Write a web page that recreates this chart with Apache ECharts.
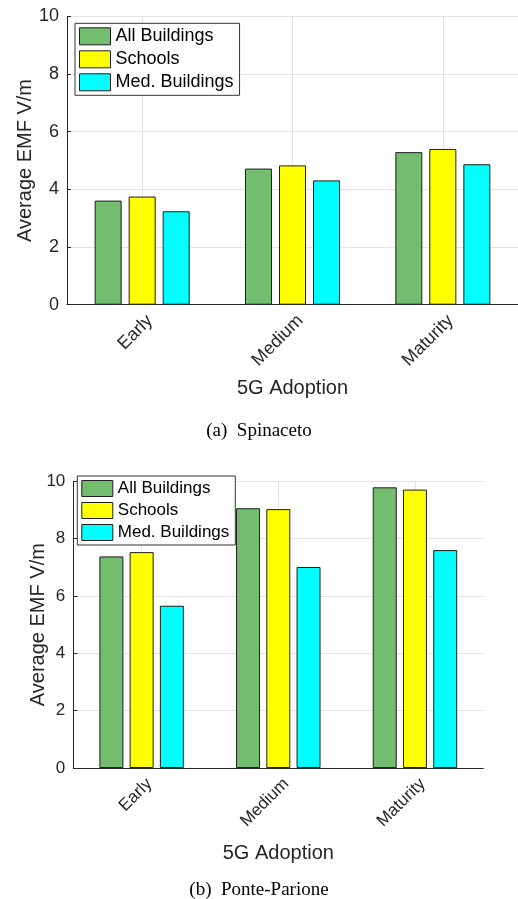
<!DOCTYPE html>
<html>
<head>
<meta charset="utf-8">
<script src="https://cdn.jsdelivr.net/npm/echarts@6/dist/echarts.min.js"></script>
<style>
  html, body { margin: 0; padding: 0; background: #fff; }
  #chart { width: 518px; height: 899px; }
</style>
</head>
<body>
<div id="chart"></div>
<script>
// Adoption stages on the x axis
const stages = ['Early', 'Medium', 'Maturity'];
const seriesNames = ['All Buildings', 'Schools', 'Med. Buildings'];
const yTicks = [0, 2, 4, 6, 8, 10];

// (a) Spinaceto — average EMF (V/m)
const spinacetoAll = [3.61, 4.72, 5.29];
const spinacetoSchools = [3.75, 4.83, 5.40];
const spinacetoMed = [3.24, 4.31, 4.87];

// (b) Ponte-Parione — average EMF (V/m)
const ponteAll = [7.38, 9.06, 9.79];
const ponteSchools = [7.53, 9.03, 9.71];
const ponteMed = [5.66, 7.01, 7.60];

const colors = ['#72bd6e', '#ffff00', '#00ffff'];
const ink = '#262626';
const gridColor = '#e3e3e3';
const sans = 'Liberation Sans, Arial, sans-serif';
const serif = 'Liberation Serif, Times New Roman, serif';

function xAxisFor(gridIndex, labelSize, nameGap) {
  return {
    type: 'category', gridIndex, data: stages,
    name: '5G Adoption', nameLocation: 'middle', nameGap, nameMoveOverlap: false,
    nameTextStyle: { fontFamily: sans, fontSize: 20, color: ink },
    axisLine: { show: true, lineStyle: { color: ink, width: 1 } },
    axisTick: { show: false },
    axisLabel: { rotate: 45, margin: 21, padding: [0, -11, 0, 0], fontFamily: sans, fontSize: labelSize, color: ink },
    splitLine: { show: true, alignWithLabel: true, lineStyle: { color: gridColor, width: 1 } }
  };
}
function yAxisFor(gridIndex, labelSize, nameGap) {
  return {
    type: 'value', gridIndex, min: yTicks[0], max: yTicks[yTicks.length - 1], interval: 2,
    name: 'Average EMF V/m', nameLocation: 'middle', nameGap, nameMoveOverlap: false,
    nameTextStyle: { fontFamily: sans, fontSize: 20, color: ink },
    axisLine: { show: true, lineStyle: { color: ink, width: 1 } },
    axisTick: { show: true, inside: true, length: 4, lineStyle: { color: ink } },
    axisLabel: { fontFamily: sans, fontSize: labelSize, color: ink, margin: 8 },
    splitLine: { show: true, lineStyle: { color: gridColor, width: 1 } }
  };
}
function barSeries(name, values, idx, axisIdx, width) {
  return {
    type: 'bar', name, data: values,
    xAxisIndex: axisIdx, yAxisIndex: axisIdx,
    barWidth: width, barGap: '26%',
    itemStyle: { color: colors[idx], borderColor: '#1e1e1e', borderWidth: 1 },
    emphasis: { disabled: true }
  };
}
function legendFor(left, top, fontSize, itemH, gap) {
  return {
    data: seriesNames, orient: 'vertical', left, top,
    itemWidth: 31, itemHeight: itemH, itemGap: gap,
    padding: [4, 6, 4, 4],
    backgroundColor: '#fff', borderColor: '#333', borderWidth: 1,
    icon: 'rect',
    itemStyle: { borderColor: '#1e1e1e', borderWidth: 1 },
    textStyle: { fontFamily: sans, fontSize, color: '#000', lineHeight: itemH },
    selectedMode: false
  };
}

const chart = echarts.init(document.getElementById('chart'), null, { renderer: 'canvas' });
chart.setOption({
  animation: false,
  backgroundColor: '#fff',
  grid: [
    { left: 67, top: 16.3, right: -6.6, height: 288.4 },
    { left: 73.3, top: 481.3, right: 34.7, height: 286.7 }
  ],
  xAxis: [xAxisFor(0, 18, 74), xAxisFor(1, 17, 75)],
  yAxis: [yAxisFor(0, 18, 32), yAxisFor(1, 17, 25)],
  legend: [legendFor(75, 23.3, 18, 17, 5), legendFor(77.3, 476, 17, 16, 5)],
  series: [
    barSeries(seriesNames[0], spinacetoAll, 0, 0, 27),
    barSeries(seriesNames[1], spinacetoSchools, 1, 0, 27),
    barSeries(seriesNames[2], spinacetoMed, 2, 0, 27),
    barSeries(seriesNames[0], ponteAll, 0, 1, 24),
    barSeries(seriesNames[1], ponteSchools, 1, 1, 24),
    barSeries(seriesNames[2], ponteMed, 2, 1, 24)
  ],
  graphic: [
    { type: 'text', left: 'center', top: 422, style: { text: '(a)  Spinaceto', fontFamily: serif, fontSize: 19, fill: '#000' } },
    { type: 'text', left: 'center', top: 881, style: { text: '(b)  Ponte-Parione', fontFamily: serif, fontSize: 19, fill: '#000' } }
  ]
});
</script>
</body>
</html>
